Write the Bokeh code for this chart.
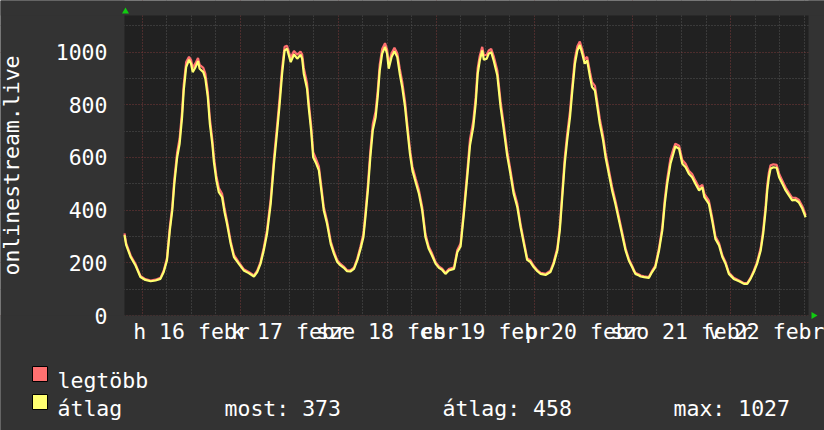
import math
from bokeh.plotting import figure
from bokeh.models import FixedTicker, Range1d, BoxAnnotation
from bokeh.core.properties import value
from bokeh.embed import file_html
from bokeh.resources import INLINE

# ---- data: hours since Mon 16 Feb 00:00 ----
hours = [-4.4, -4.0, -3.8, -2.9, -1.7, -0.5, 0.7, 2.0, 3.2, 4.4, 5.2, 6.0, 6.7, 7.3, 7.8, 8.5, 9.1, 9.7, 10.1, 10.7,
         11.4, 11.9, 12.3, 13.0, 13.6, 14.0, 14.9, 15.4, 16.0, 16.5, 17.1, 17.5, 18.1, 18.7, 19.5, 20.1, 20.7, 21.6, 22.4, 23.6,
         24.8, 26.0, 27.3, 28.1, 28.9, 29.7, 30.5, 31.4, 32.2, 33.0, 33.6, 34.2, 34.8, 35.4, 36.3, 37.1, 37.9, 38.7, 39.1, 39.5,
         40.3, 40.7, 41.3, 41.8, 42.4, 43.2, 43.8, 44.4, 45.2, 46.1, 46.9, 47.7, 48.5, 49.3, 50.1, 50.9, 51.8, 52.6, 53.4, 54.1,
         54.6, 55.2, 55.8, 56.4, 57.1, 57.6, 58.1, 58.7, 59.4, 59.9, 60.3, 61.0, 61.7, 62.4, 63.0, 63.6, 64.3, 64.8, 65.5, 66.1,
         66.9, 67.7, 68.5, 69.3, 70.1, 70.9, 71.8, 72.6, 73.4, 74.2, 75.0, 76.3, 77.1, 77.9, 78.7, 79.5, 80.2, 81.0, 81.6, 82.1,
         82.6, 83.2, 83.6, 84.3, 84.8, 85.4, 86.0, 86.9, 87.7, 88.5, 89.3, 90.1, 90.9, 91.8, 92.6, 93.4, 94.2, 95.0, 95.8, 96.7,
         97.5, 98.7, 99.9, 100.7, 101.6, 102.2, 102.8, 103.4, 104.0, 104.7, 105.2, 105.9, 106.5, 107.1, 107.7, 108.3, 108.9, 109.6, 110.1, 110.8,
         111.4, 112.0, 112.8, 113.4, 114.2, 115.0, 115.8, 116.7, 117.5, 118.3, 119.1, 119.9, 120.3, 120.7, 121.6, 122.0, 122.8, 124.0, 124.8, 125.6,
         126.5, 127.3, 127.9, 128.5, 129.3, 130.0, 130.5, 131.4, 132.2, 133.0, 133.8, 134.6, 135.4, 136.3, 137.1, 137.6, 138.7, 139.5, 140.3, 141.2,
         142.0, 142.8, 143.6, 144.8, 146.1, 147.3, 148.1, 148.9, 149.7, 150.5, 151.4, 152.0, 152.6, 153.0, 153.4, 153.8, 154.5, 155.3, 155.9, 156.7,
         157.5, 158.3, 159.1, 159.9, 160.7, 161.6, 162.4]

avg_vals = [305, 268, 260, 222, 190, 146, 135, 130, 133, 139, 165, 209, 323, 399, 500, 601, 652, 753, 854, 943,
            971, 956, 924, 943, 966, 937, 924, 899, 829, 728, 652, 582, 513, 468, 449, 392, 348, 272, 222, 196,
            171, 161, 148, 165, 196, 247, 310, 424, 576, 703, 804, 918, 1006, 1013, 962, 991, 975, 990, 975, 918,
            861, 791, 703, 601, 582, 551, 475, 399, 348, 272, 234, 203, 190, 181, 168, 167, 177, 209, 253, 297,
            373, 475, 601, 703, 753, 829, 930, 994, 1020, 994, 937, 981, 1003, 981, 918, 867, 791, 715, 614, 551,
            506, 462, 399, 297, 253, 228, 196, 181, 173, 158, 171, 177, 240, 262, 385, 520, 645, 715, 804, 918,
            968, 1006, 971, 975, 994, 1000, 968, 911, 791, 703, 608, 538, 462, 411, 335, 272, 211, 203, 184, 168,
            158, 154, 165, 196, 247, 323, 449, 576, 665, 753, 842, 956, 1006, 1027, 994, 956, 968, 905, 867, 854,
            791, 728, 665, 601, 538, 475, 424, 361, 304, 247, 209, 184, 171, 158, 152, 148, 146, 143, 165, 184,
            247, 323, 424, 500, 576, 614, 642, 633, 576, 563, 538, 525, 500, 475, 487, 449, 424, 361, 291, 266,
            222, 196, 158, 139, 130, 120, 120, 139, 165, 196, 247, 310, 399, 475, 525, 557, 563, 561, 525, 500,
            475, 456, 437, 439, 430, 405, 373]

max_vals = [312, 275, 266, 228, 195, 150, 138, 133, 136, 143, 170, 218, 336, 414, 517, 620, 672, 775, 876, 962,
            982, 970, 940, 958, 978, 952, 940, 918, 850, 748, 670, 600, 530, 484, 462, 406, 360, 282, 230, 202,
            176, 165, 152, 170, 203, 257, 324, 442, 598, 726, 828, 940, 1020, 1024, 978, 1004, 990, 1002, 992, 940,
            882, 812, 722, 620, 598, 566, 490, 412, 360, 282, 242, 210, 196, 186, 172, 171, 182, 216, 263, 310,
            390, 495, 624, 726, 776, 852, 952, 1012, 1034, 1010, 955, 996, 1016, 996, 938, 888, 812, 734, 632, 566,
            520, 476, 412, 309, 262, 236, 202, 186, 178, 162, 176, 183, 249, 273, 402, 540, 668, 738, 828, 940,
            986, 1020, 988, 990, 1006, 1012, 985, 930, 812, 722, 626, 554, 476, 424, 346, 282, 218, 209, 189, 172,
            162, 158, 170, 203, 257, 337, 468, 598, 688, 776, 864, 976, 1022, 1040, 1010, 972, 982, 924, 886, 872,
            810, 746, 682, 618, 554, 489, 437, 372, 314, 255, 215, 189, 175, 162, 156, 152, 149, 146, 170, 190,
            257, 337, 441, 519, 596, 632, 652, 645, 590, 576, 550, 537, 512, 487, 496, 462, 436, 373, 301, 274,
            229, 202, 163, 143, 133, 123, 123, 143, 170, 203, 257, 324, 416, 494, 543, 570, 574, 572, 538, 512,
            486, 466, 447, 447, 440, 415, 381]

label_hours = [12, 36, 60, 84, 108, 132, 156]
day_labels = ["h 16 febr", "k 17 febr", "sze 18 febr", "cs 19 febr", "p 20 febr", "szo 21 febr", "v 22 febr"]
y_major = [0, 200, 400, 600, 800, 1000]
y_minor = [100, 300, 500, 700, 900, 1100]
day_starts = [0, 24, 48, 72, 96, 120, 144]
six_hours = [6, 12, 18, 30, 36, 42, 54, 60, 66, 78, 84, 90, 102, 108, 114, 126, 132, 138, 150, 156, 162]

legend_names = ["legtöbb", "átlag"]
legend_stats = ["most: 373", "átlag: 458", "max: 1027"]

FONT = "DejaVu Sans Mono"
FS = "21.5px"
TXT = "#FFFFFF"
RED = "#FF7070"
YEL = "#FFFF70"
OUTER = "#333333"
PLOT = "#212121"

# ---- geometry: graph area in data units and where it sits on the canvas (px) ----
W, H = 824, 430
X0, X1 = -4.4, 163.1          # hours shown
Y0, Y1 = 0, 1139              # value range shown
GL, GR, GT, GB = 124, 808, 15, 315
kx = (GR - GL) / (X1 - X0)
ky = (GB - GT) / (Y1 - Y0)
x_range = Range1d(X0 - GL / kx, X1 + (W - GR) / kx)
y_range = Range1d(Y0 - (H - GB) / ky, Y1 + GT / ky)

p = figure(width=W, height=H, output_backend="svg", toolbar_location=None,
           x_range=x_range, y_range=y_range,
           min_border_left=0, min_border_right=0, min_border_top=0, min_border_bottom=0,
           background_fill_color=PLOT, border_fill_color=OUTER, outline_line_color=None)
# pixel-space ranges for the legend strip and axis arrows
p.extra_x_ranges = {"px": Range1d(0, W)}
p.extra_y_ranges = {"px": Range1d(H, 0)}

# axes placed on the graph edges
xa, ya = p.xaxis[0], p.yaxis[0]
xa.fixed_location = Y0
ya.fixed_location = X0
xa.bounds = (X0, X1)
ya.bounds = (Y0, Y1)
ya.ticker = FixedTicker(ticks=y_major, minor_ticks=y_minor)
xa.ticker = FixedTicker(ticks=label_hours)
xa.major_label_overrides = {h: s for h, s in zip(label_hours, day_labels)}
for ax in (xa, ya):
    ax.axis_line_color = None
    ax.major_tick_line_color = None
    ax.minor_tick_line_color = None
    ax.major_label_text_font = FONT
    ax.major_label_text_font_size = FS
    ax.major_label_text_color = TXT
ya.major_label_standoff = 11
xa.major_label_standoff = -3
ya.axis_label = "onlinestream.live"
ya.axis_label_text_font = FONT
ya.axis_label_text_font_size = FS
ya.axis_label_text_font_style = "normal"
ya.axis_label_text_color = TXT
ya.axis_label_standoff = 29

# grids
p.ygrid.grid_line_color = "#7a3a3a"
p.ygrid.grid_line_dash = "1 2"
p.ygrid.minor_grid_line_color = "#555555"
p.ygrid.minor_grid_line_dash = "1 2"
p.xgrid.ticker = FixedTicker(ticks=day_starts, minor_ticks=six_hours)
p.xgrid.grid_line_color = "#7a3a3a"
p.xgrid.grid_line_dash = "1 2"
p.xgrid.minor_grid_line_color = "#555555"
p.xgrid.minor_grid_line_dash = "1 2"

# outer background around the graph area (drawn over the grid, under everything else)
for kw in (dict(right=X0), dict(left=X1), dict(bottom=Y1), dict(top=Y0)):
    p.add_layout(BoxAnnotation(fill_color=OUTER, fill_alpha=1, line_color=None, level="underlay", **kw))

# series
p.line(hours, max_vals, line_color=RED, line_width=2.2)
p.line(hours, avg_vals, line_color=YEL, line_width=2.2)

# axis arrows (rrdtool style), in pixel space
p.scatter([GL + 1], [GT - 4], marker="triangle", size=7, fill_color="#11CC11", line_color=None,
          x_range_name="px", y_range_name="px")
p.scatter([GR + 5], [GB], marker="triangle", size=7, angle=-math.pi / 2, fill_color="#11CC11",
          line_color=None, x_range_name="px", y_range_name="px")

# legend strip, in pixel space
p.quad(left=[32, 32], right=[47, 47], top=[366, 394], bottom=[381, 409],
       fill_color=[RED, YEL], line_color="black", line_width=1, x_range_name="px", y_range_name="px")
p.text(x=[57, 57, 224, 442, 673], y=[380, 408, 408, 408, 408],
       text=[legend_names[0], legend_names[1]] + legend_stats,
       text_font=value(FONT), text_font_size=value(FS), text_color=TXT,
       text_align="left", text_baseline="alphabetic", x_range_name="px", y_range_name="px")

open("out.html", "w").write(file_html(p, INLINE))
